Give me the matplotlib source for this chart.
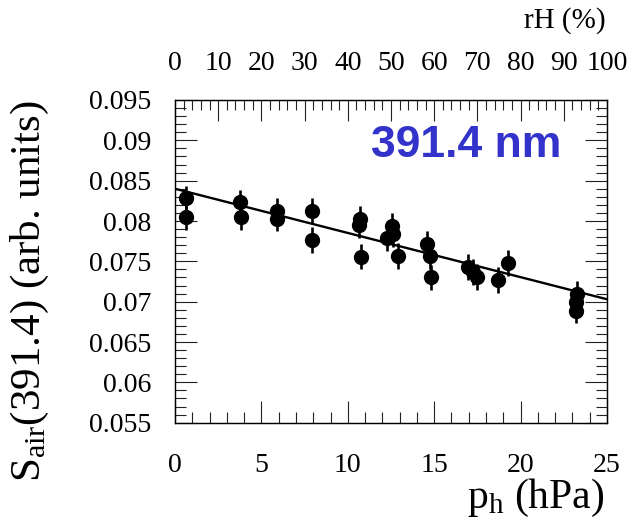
import numpy as np
import matplotlib
matplotlib.use("Agg")
import matplotlib.pyplot as plt
from matplotlib.ticker import MultipleLocator, FuncFormatter

# measured points: water vapour partial pressure (hPa) vs S_air(391.4)
p_h = [0.64, 0.64, 3.76, 3.80, 5.93, 5.93, 7.95, 7.95, 10.71, 10.62, 10.74,
       12.26, 12.55, 12.64, 12.93, 14.57, 14.73, 14.81, 16.98, 17.27, 17.50,
       18.72, 19.30, 23.26, 23.20, 23.23]
s_air = [0.0828, 0.0805, 0.0823, 0.0805, 0.0813, 0.0803, 0.0813, 0.0776,
         0.0803, 0.0795, 0.0756, 0.0779, 0.0794, 0.0784, 0.0757, 0.0772,
         0.0757, 0.0730, 0.0743, 0.0737, 0.0731, 0.0727, 0.0748, 0.0710,
         0.0700, 0.0689]
s_err = [0.0016] * len(p_h)

# linear fit shown in the plot
fit_intercept = 0.0840
fit_slope = -0.000548

serif = ["Liberation Serif", "DejaVu Serif"]
plt.rcParams["font.family"] = serif
plt.rcParams["mathtext.fontset"] = "custom"
plt.rcParams["mathtext.rm"] = "Liberation Serif"

fig = plt.figure(figsize=(6.32, 5.26), dpi=100)
ax = fig.add_axes([0.2769, 0.1964, 0.6835, 0.6135])

ax.errorbar(p_h, s_air, yerr=s_err, fmt="o", color="black", ms=10,
            elinewidth=1.9, capsize=0, zorder=3)
x_fit = np.array([0.0, 25.0])
ax.plot(x_fit, fit_intercept + fit_slope * x_fit, color="black", lw=1.7, zorder=2)

ax.set_xlim(0, 25)
ax.set_ylim(0.055, 0.095)
ax.xaxis.set_major_locator(MultipleLocator(5))
ax.xaxis.set_minor_locator(MultipleLocator(1))
ax.yaxis.set_major_locator(MultipleLocator(0.005))
ax.yaxis.set_minor_locator(MultipleLocator(0.001))
ax.yaxis.set_major_formatter(FuncFormatter(lambda v, pos: f"{v:g}"))
ax.tick_params(which="both", direction="in", right=True, top=False, width=0.8,
               colors="#222222", labelcolor="black")
ax.tick_params(which="major", length=16)
ax.tick_params(which="minor", length=8)
ax.tick_params(axis="x", labelsize=20, pad=22)
ax.tick_params(axis="y", labelsize=20, pad=17)
for sp in ax.spines.values():
    sp.set_linewidth(1.0)
    sp.set_color("#222222")

# relative humidity axis on top
ax2 = ax.twiny()
ax2.set_xlim(0, 100)
ax2.xaxis.set_major_locator(MultipleLocator(10))
ax2.xaxis.set_minor_locator(MultipleLocator(2))
ax2.tick_params(which="both", direction="in", width=0.8, colors="#222222",
                labelcolor="black", labelsize=20, pad=17)
ax2.tick_params(which="major", length=15)
ax2.tick_params(which="minor", length=7)

ax.text(0.996, 1.223, "rH (%)", transform=ax.transAxes, ha="right",
        va="baseline", fontsize=21)
ax.text(0.993, -0.264, r"$\mathregular{p_h}$ (hPa)", transform=ax.transAxes,
        ha="right", va="baseline", fontsize=30)
ax.text(-0.3845, 1.0, r"$\mathregular{S_{air}}$(391.4) (arb. units)",
        transform=ax.transAxes, rotation=90, ha="left", va="top", fontsize=31)
ax.text(0.674, 0.824, "391.4 nm", transform=ax.transAxes, ha="center",
        va="baseline", fontsize=32, fontweight="bold", color="#3333CC",
        family=["Liberation Sans", "DejaVu Sans"])

fig.savefig("out.png", dpi=100)
